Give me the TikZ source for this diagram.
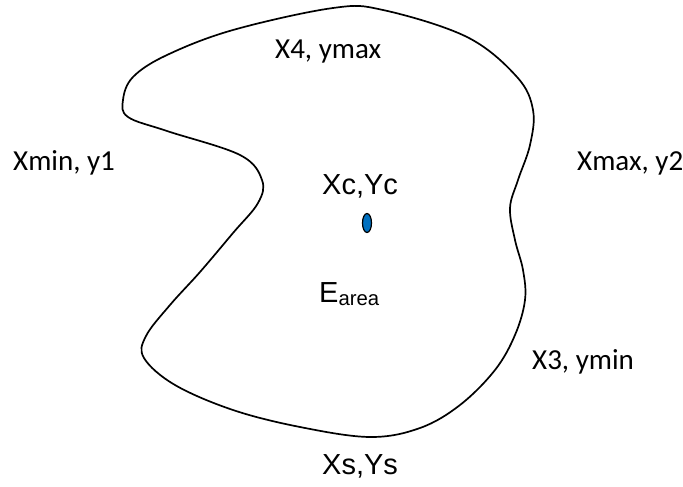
\documentclass[tikz,border=0pt]{standalone}
\usepackage{fontspec}
\usetikzlibrary{shapes.geometric}
\setmainfont{Carlito}
\newfontfamily\arialfont{Liberation Sans}
\definecolor{dotblue}{RGB}{0,112,192}
\begin{document}
\begin{tikzpicture}[x=1pt,y=-1pt,
  calib/.style={font=\fontsize{29}{34}\selectfont, inner sep=0pt},
  arialtxt/.style={font=\arialfont\fontsize{29}{34}\selectfont, inner sep=0pt},
  outline/.style={line width=1.7pt, line join=round}]
\useasboundingbox (0,0) rectangle (683,487);
\draw[outline] plot[smooth cycle, tension=0.6] coordinates {
 (333,8) (383,10) (467,37) (517,77) (533,110) (530,145) (518,180) (510,208)
 (515,240) (523,270) (525,300) (515,335) (495,370) (460,405) (420,428)
 (370,437) (300,427) (233,410) (175,385) (144,358) (146,336) (170,305)
 (200,272) (233,233) (258,203) (262,180) (240,155) (167,131) (128,117)
 (123,100) (133,77) (167,55) (233,30)};
\node[calib, anchor=west] (x4) at (275,52) {X4, ymax};
\node[calib, anchor=west] (xmin) at (13,163) {Xmin, y1};
\node[calib, anchor=west] (xmax) at (577,163) {Xmax, y2};
\node[calib, anchor=west] (x3) at (532,362) {X3, ymin};
\node[arialtxt, anchor=west] (xc) at (322,186) {Xc,Yc};
\node[draw=black, line width=1.2pt, fill=dotblue, ellipse, minimum width=9pt, minimum height=19pt, inner sep=0pt] (c) at (367,223) {};
\node[arialtxt, anchor=west] (e) at (319,294) {E\textsubscript{area}};
\node[arialtxt, anchor=west] (xs) at (322,466) {Xs,Ys};
\end{tikzpicture}
\end{document}
